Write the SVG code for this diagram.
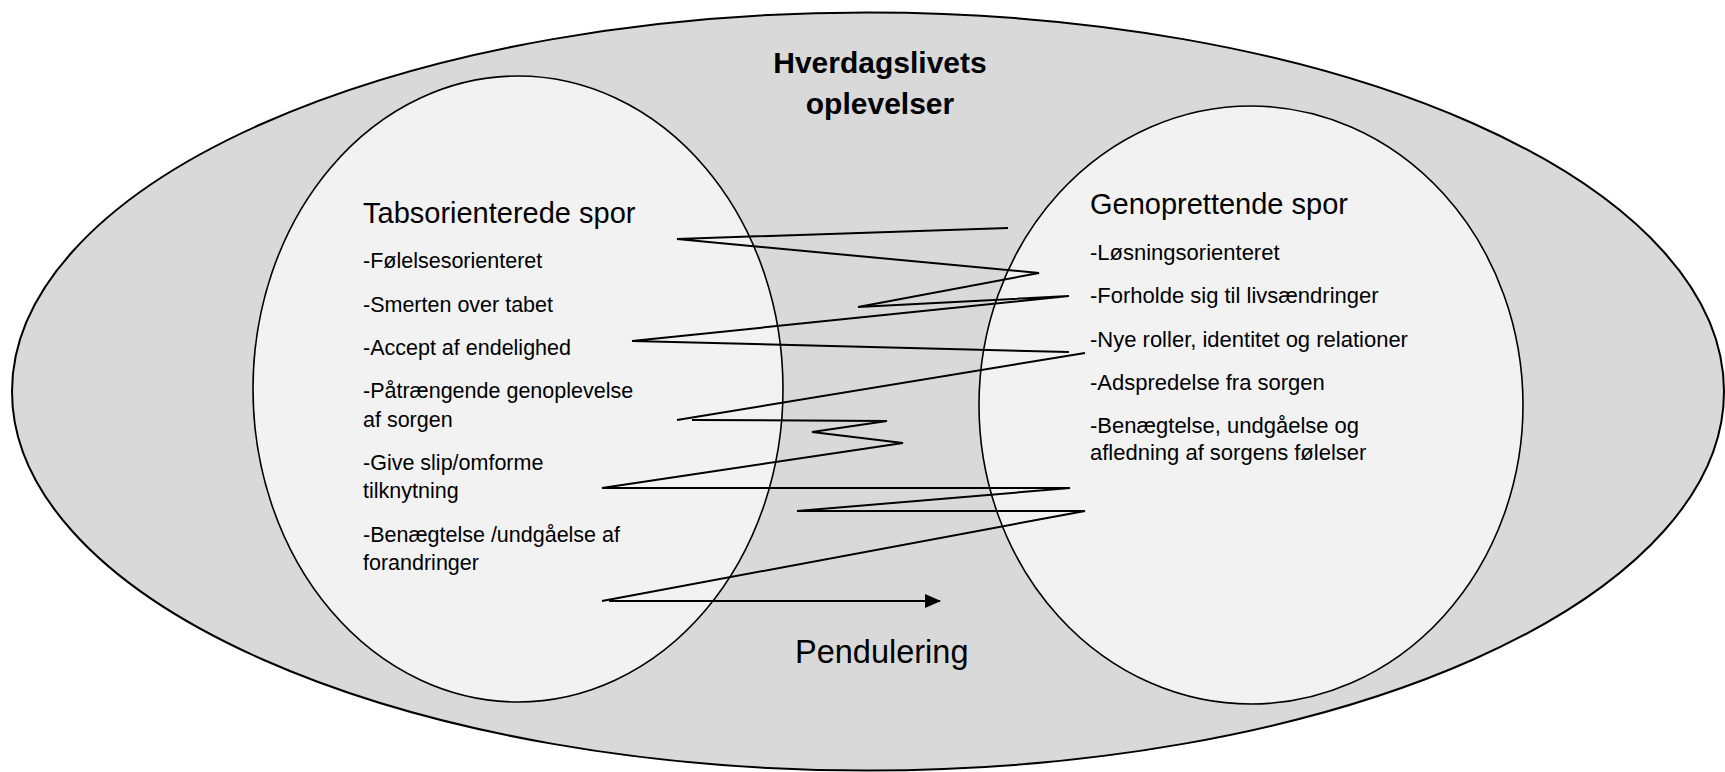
<svg xmlns="http://www.w3.org/2000/svg" width="1725" height="772" viewBox="0 0 1725 772">
<style>
.t{font-family:"Liberation Sans",Arial,sans-serif;fill:#000}
.h{font-size:29px}
.i{font-size:21.5px}
.j{font-size:22px}
.ln{fill:none;stroke:#000;stroke-width:2;stroke-linejoin:miter}
</style>
<defs>
<marker id="ah" viewBox="0 0 16 14" refX="15" refY="7" markerWidth="16" markerHeight="14" markerUnits="userSpaceOnUse" orient="auto">
<path d="M0,0 L16,7 L0,14 Z" fill="#000"/>
</marker>
</defs>
<rect width="1725" height="772" fill="#fff"/>
<g id="outer">
<ellipse cx="868" cy="391.5" rx="856" ry="379" fill="#d9d9d9" stroke="#000" stroke-width="2"/>
<text class="t" x="880" y="73" font-size="30" font-weight="bold" text-anchor="middle">Hverdagslivets</text>
<text class="t" x="880" y="114" font-size="30" font-weight="bold" text-anchor="middle">oplevelser</text>
</g>
<g id="tab">
<ellipse cx="518" cy="389" rx="265" ry="313" fill="#f2f2f2" stroke="#000" stroke-width="1.6"/>
</g>
<g id="gen">
<ellipse cx="1251" cy="405" rx="272" ry="299" fill="#f2f2f2" stroke="#000" stroke-width="1.6"/>
</g>
<g id="connectors">
<polyline class="ln" points="1008,228 677,239 1039,273 858,307 1069,296 632,341 1069,352"/>
<polyline class="ln" points="1085,353 677,420"/>
<polyline class="ln" points="692,420 887,421 812,432 903,443 602,488 1070,488 797,511 1085,511 602,601"/>
<line class="ln" x1="609" y1="601" x2="940" y2="601" marker-end="url(#ah)"/>
</g>
<g id="tab-text">
<text class="t h" x="363" y="223">Tabsorienterede spor</text>
<text class="t i" x="363" y="268">-Følelsesorienteret</text>
<text class="t i" x="363" y="312">-Smerten over tabet</text>
<text class="t i" x="363" y="355">-Accept af endelighed</text>
<text class="t i" x="363" y="398">-Påtrængende genoplevelse</text>
<text class="t i" x="363" y="427">af sorgen</text>
<text class="t i" x="363" y="470">-Give slip/omforme</text>
<text class="t i" x="363" y="498">tilknytning</text>
<text class="t i" x="363" y="542">-Benægtelse /undgåelse af</text>
<text class="t i" x="363" y="570">forandringer</text>
</g>
<g id="gen-text">
<text class="t h" x="1090" y="214">Genoprettende spor</text>
<text class="t j" x="1090" y="260">-Løsningsorienteret</text>
<text class="t j" x="1090" y="303">-Forholde sig til livsændringer</text>
<text class="t j" x="1090" y="347">-Nye roller, identitet og relationer</text>
<text class="t j" x="1090" y="390">-Adspredelse fra sorgen</text>
<text class="t j" x="1090" y="433">-Benægtelse, undgåelse og</text>
<text class="t j" x="1090" y="460">afledning af sorgens følelser</text>
</g>
<g id="pendulering">
<text class="t" x="795" y="663" font-size="32.5">Pendulering</text>
</g>
</svg>
